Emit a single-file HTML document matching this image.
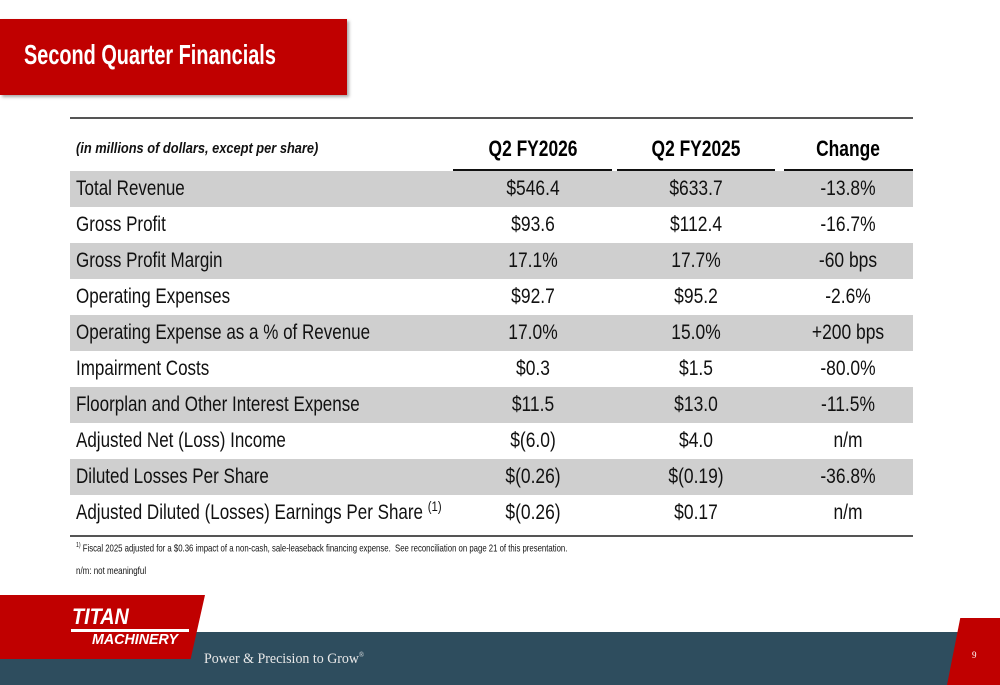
<!DOCTYPE html>
<html><head><meta charset="utf-8"><style>
body{margin:0;width:1000px;height:685px;position:relative;background:#fff;overflow:hidden;font-family:"Liberation Sans Narrow","Liberation Sans",sans-serif;}
.a{position:absolute;white-space:nowrap;}
.sl{transform-origin:left center;}
.row{position:absolute;left:70px;width:843px;height:36px;}
.row span.t{position:absolute;top:0;line-height:36px;font-size:21px;color:#111;white-space:nowrap;}
.c1{left:6px;transform:scaleX(0.81);transform-origin:left center;}
.v{transform:translateX(-50%) scaleX(0.83);transform-origin:center;}
.vh{transform:translateX(-50%) scaleX(0.79);transform-origin:center;}
sup.fn{font-size:14px;line-height:0;position:relative;top:-8px;vertical-align:baseline;}
</style></head><body>
<div class="a" style="left:0;top:19px;width:347px;height:76px;background:#c00000;box-shadow:2px 2px 3px rgba(0,0,0,0.35);"></div>
<div class="a sl" style="left:24px;top:38px;font-size:28px;font-weight:bold;color:#fff;line-height:34px;transform:scaleX(0.71);">Second Quarter Financials</div>

<div class="a" style="left:70px;top:117px;width:843px;height:2px;background:#555;"></div>
<div class="a sl" style="left:76px;top:140px;font-size:15px;font-style:italic;font-weight:bold;color:#111;transform:scaleX(0.855);">(in millions of dollars, except per share)</div>
<div class="a vh" style="left:533px;top:136px;font-size:22px;font-weight:bold;">Q2 FY2026</div>
<div class="a vh" style="left:696px;top:136px;font-size:22px;font-weight:bold;">Q2 FY2025</div>
<div class="a vh" style="left:848px;top:136px;font-size:22px;font-weight:bold;">Change</div>
<div class="a" style="left:453px;top:169px;width:159px;height:3px;background:#111;"></div>
<div class="a" style="left:617px;top:169px;width:158px;height:3px;background:#111;"></div>
<div class="a" style="left:784px;top:169px;width:129px;height:3px;background:#111;"></div>

<div id="rows"></div>

<div class="a" style="left:70px;top:535px;width:843px;height:2px;background:#555;"></div>
<div class="a sl" style="left:76px;top:542px;font-size:10.5px;color:#111;transform:scaleX(0.74);"><sup style="font-size:7px">1)</sup> Fiscal 2025 adjusted for a $0.36 impact of a non-cash, sale-leaseback financing expense.&nbsp; See reconciliation on page 21 of this presentation.</div>
<div class="a sl" style="left:76px;top:565px;font-size:10.5px;color:#111;transform:scaleX(0.76);">n/m: not meaningful</div>

<div class="a" style="left:0;top:632px;width:1000px;height:53px;background:#2e4d5e;"></div>
<div class="a" style="left:0;top:595px;width:205px;height:64px;background:#c00000;clip-path:polygon(0 0,100% 0,93% 100%,0 100%);"></div>
<div class="a sl" style="left:72px;top:606px;font-size:22px;font-weight:bold;font-style:italic;color:#fff;line-height:22px;transform:scaleX(0.9);">TITAN</div>
<div class="a" style="left:71px;top:629px;width:118px;height:3px;background:#fff;"></div>
<div class="a sl" style="left:92px;top:632px;font-size:15px;font-weight:bold;font-style:italic;color:#fff;line-height:16px;transform:scaleX(0.95);">MACHINERY</div>
<div class="a sl" style="left:204px;top:651px;font-family:'Liberation Serif',serif;font-size:15px;color:#e8e8e8;transform:scaleX(0.93);">Power &amp; Precision to Grow<sup style="font-size:7px">®</sup></div>
<div class="a" style="left:947px;top:618px;width:53px;height:67px;background:#c00000;clip-path:polygon(25% 0,100% 0,100% 100%,0 100%);"></div>
<div class="a" style="left:972px;top:650px;font-family:'Liberation Serif',serif;font-size:9px;color:#fff;">9</div>

<script>
const labels=["Total Revenue","Gross Profit","Gross Profit Margin","Operating Expenses","Operating Expense as a % of Revenue","Impairment Costs","Floorplan and Other Interest Expense","Adjusted Net (Loss) Income","Diluted Losses Per Share","Adjusted Diluted (Losses) Earnings Per Share"];
const q2fy2026=["$546.4","$93.6","17.1%","$92.7","17.0%","$0.3","$11.5","$(6.0)","$(0.26)","$(0.26)"];
const q2fy2025=["$633.7","$112.4","17.7%","$95.2","15.0%","$1.5","$13.0","$4.0","$(0.19)","$0.17"];
const changes=["-13.8%","-16.7%","-60 bps","-2.6%","+200 bps","-80.0%","-11.5%","n/m","-36.8%","n/m"];
const host=document.getElementById('rows');
labels.forEach((l,i)=>{
  const r=document.createElement('div');
  r.className='row';
  
  
  r.style.top=(171+i*36)+'px';
  if(i%2===0) r.style.background='#cfcfcf';
  const sup = i===9 ? ' <sup class="fn">(1)</sup>' : '';
  r.innerHTML='<span class="t c1">'+l+sup+'</span>'+
    '<span class="t v" style="left:463px">'+q2fy2026[i]+'</span>'+
    '<span class="t v" style="left:626px">'+q2fy2025[i]+'</span>'+
    '<span class="t v" style="left:778px">'+changes[i]+'</span>';
  host.appendChild(r);
});
</script>
</body></html>
